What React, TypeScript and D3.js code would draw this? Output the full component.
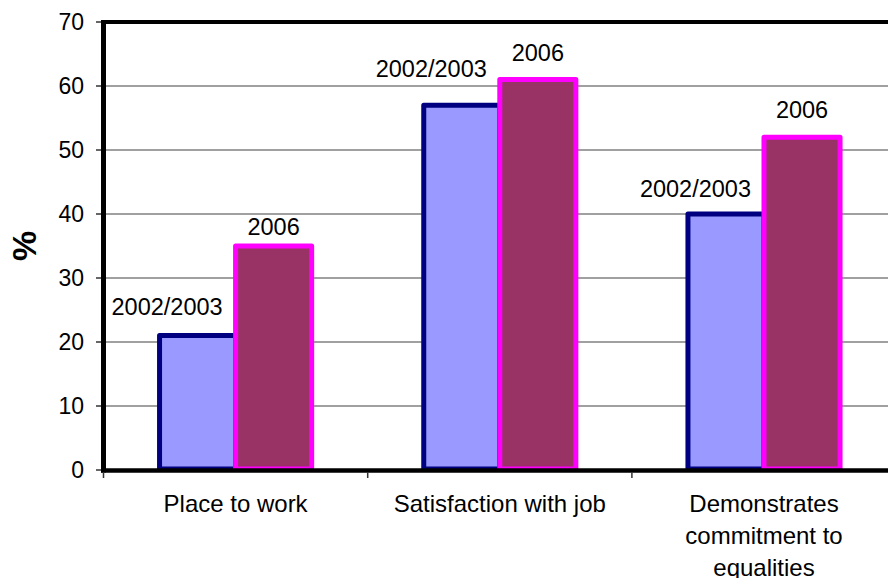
import React from "react";
import * as d3 from "d3";

const categories = ["Place to work", "Satisfaction with job", "Demonstrates commitment to equalities"];
const categoryLines = [["Place to work"], ["Satisfaction with job"], ["Demonstrates", "commitment to", "equalities"]];
const series = ["2002/2003", "2006"];
const values2002 = [21, 57, 40];
const values2006 = [35, 61, 52];
const yTicks = [0, 10, 20, 30, 40, 50, 60, 70];

// style: label lift above bar top (px), per series per category
const labelLift = [[20.5, 28.5, 17], [11, 19, 19]];

const W = 888, H = 578;
const FONT = "'Liberation Sans', Arial, Helvetica, sans-serif";
const fills = ["#9999FF", "#993366"];
const strokes = ["#000080", "#FF00FF"];

export default function App() {
  const left = 103.5, top = 22, bottom = 470;
  const x0 = d3.scaleBand<string>().domain(categories).range([left, left + 3 * 264.2]).padding(0);
  const x1 = d3.scaleBand<string>().domain(series).range([0, x0.bandwidth()]).paddingInner(0).paddingOuter(0.737);
  const y = d3.scaleLinear().domain([0, 70]).range([bottom, top]);
  const data = [values2002, values2006];
  const bw = x1.bandwidth();
  const boundaries = [...categories.map((c) => x0(c) as number), left + 3 * 264.2];

  return (
    <svg width={W} height={H} style={{ position: "absolute", left: 0, top: 0, background: "#fff" }} fontFamily={FONT}>
      {/* gridlines */}
      {yTicks.filter((t) => t > 0 && t < 70).map((t) => (
        <line key={"g" + t} x1={left} x2={W} y1={y(t)} y2={y(t)} stroke="#808080" strokeWidth={1.5} />
      ))}
      {/* y ticks */}
      {yTicks.map((t) => (
        <g key={"t" + t}>
          <line x1={96} x2={left} y1={y(t)} y2={y(t)} stroke="#333" strokeWidth={1.5} />
          <text x={84} y={y(t)} dy="0.36em" textAnchor="end" fontSize={23} fill="#000">{t}</text>
        </g>
      ))}
      {/* bars */}
      {series.map((s, si) =>
        categories.map((c, ci) => {
          const v = data[si][ci];
          const bx = (x0(c) as number) + (x1(s) as number);
          return (
            <rect key={s + c} x={bx} y={y(v)} width={bw} height={y(0) - y(v) - 1}
              fill={fills[si]} stroke={strokes[si]} strokeWidth={5} strokeLinejoin="round" />
          );
        })
      )}
      {/* top border */}
      <line x1={left - 2.5} x2={W} y1={top} y2={top} stroke="#000" strokeWidth={4} />
      {/* bottom axis */}
      <line x1={left - 2.5} x2={W} y1={bottom + 0.5} y2={bottom + 0.5} stroke="#000" strokeWidth={4.5} />
      {/* left axis */}
      <line x1={left} x2={left} y1={top - 2} y2={bottom + 2.5} stroke="#000" strokeWidth={5} />
      {/* x ticks */}
      {boundaries.map((b, i) => (
        <line key={"xt" + i} x1={b} x2={b} y1={bottom + 2} y2={bottom + 8} stroke="#333" strokeWidth={1.5} />
      ))}
      {/* data labels */}
      {series.map((s, si) =>
        categories.map((c, ci) => {
          const v = data[si][ci];
          const bx = (x0(c) as number) + (x1(s) as number);
          const lx = si === 0 ? bx + bw - 13 : bx + bw / 2;
          return (
            <text key={"l" + s + c} x={lx} y={y(v) - labelLift[si][ci]} textAnchor={si === 0 ? "end" : "middle"}
              fontSize={23.5} fill="#000">{s}</text>
          );
        })
      )}
      {/* category labels */}
      {categories.map((c, ci) => (
        <text key={"c" + c} x={(x0(c) as number) + x0.bandwidth() / 2} y={512} textAnchor="middle" fontSize={24} fill="#000">
          {categoryLines[ci].map((ln, li) => (
            <tspan key={li} x={(x0(c) as number) + x0.bandwidth() / 2} dy={li === 0 ? 0 : 32}>{ln}</tspan>
          ))}
        </text>
      ))}
      {/* y title */}
      <text transform={`translate(36, ${(top + bottom) / 2}) rotate(-90)`} textAnchor="middle" fontSize={34} fontWeight="bold" fill="#000">%</text>
    </svg>
  );
}
